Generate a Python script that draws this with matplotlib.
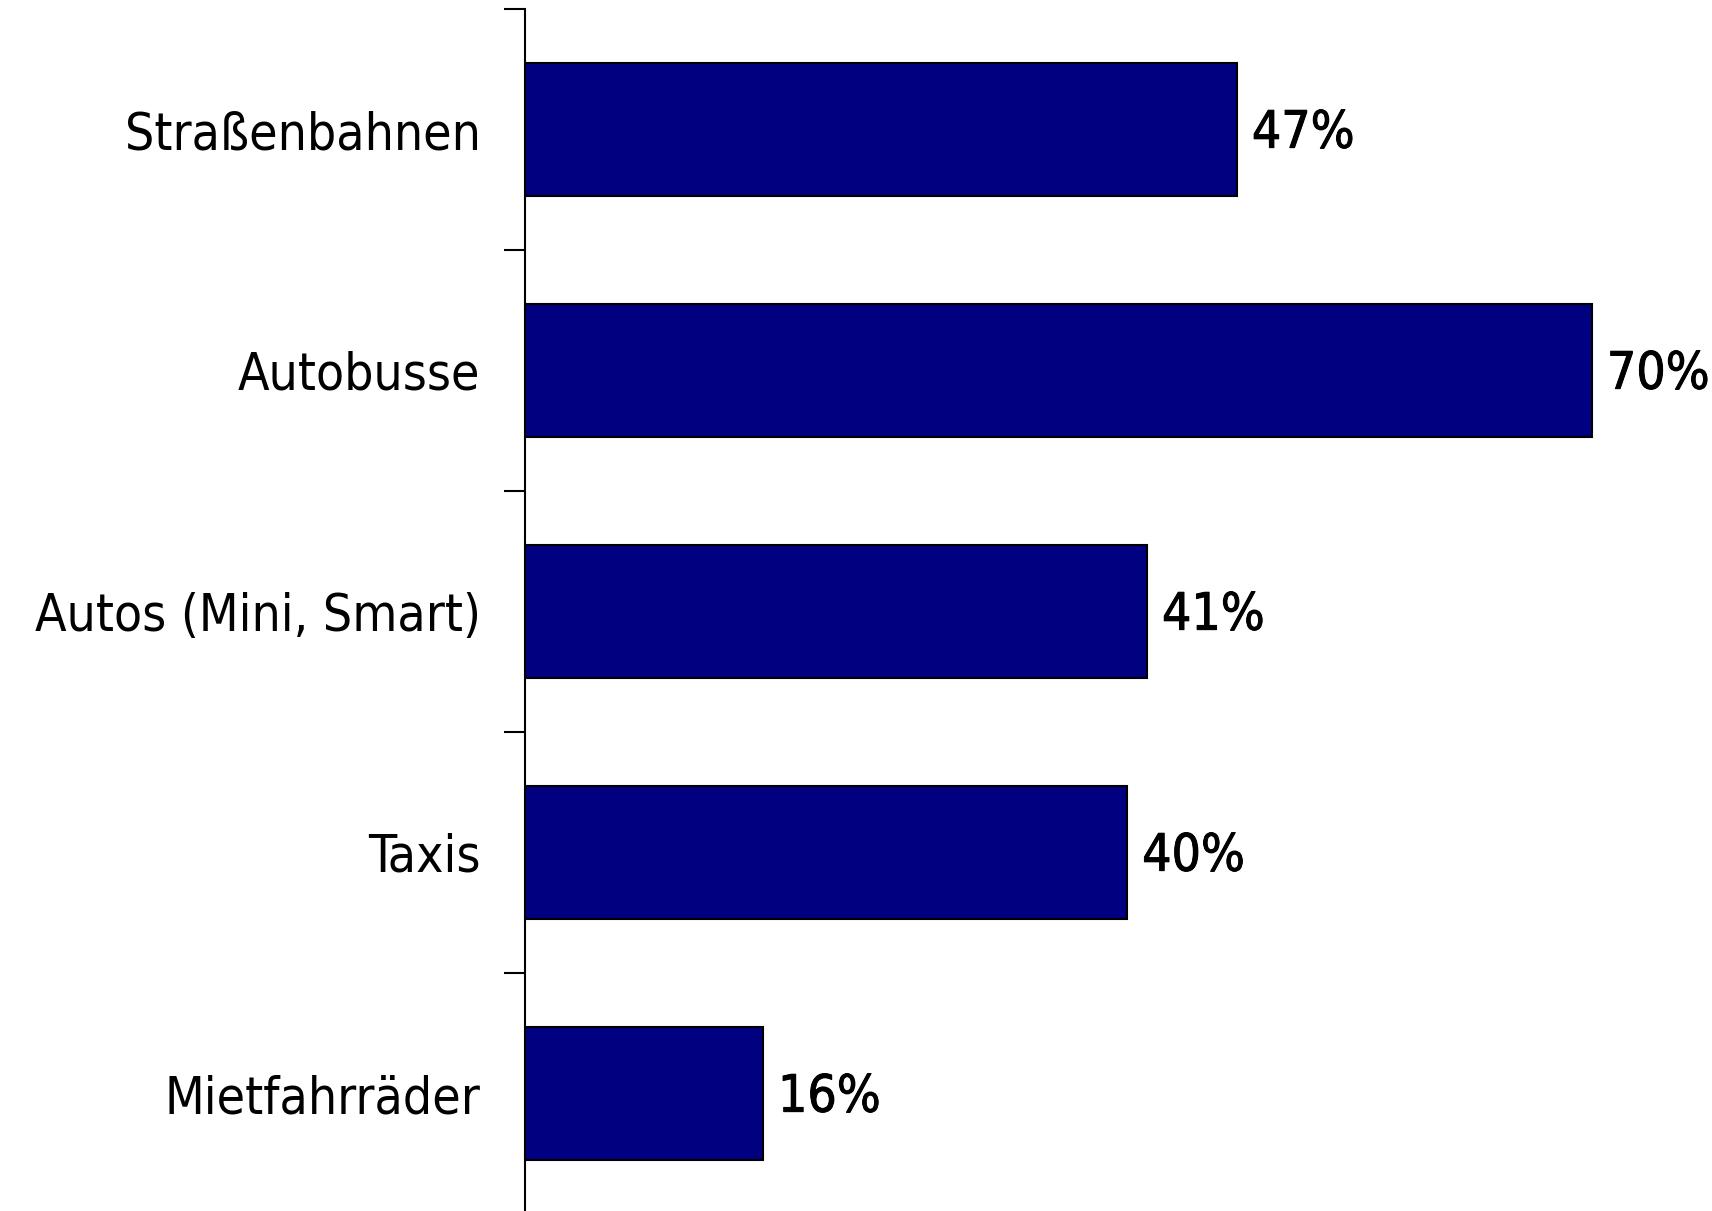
import matplotlib
matplotlib.use("Agg")
import matplotlib.pyplot as plt
import matplotlib.patheffects as pe

kategorien = ["Straßenbahnen", "Autobusse", "Autos (Mini, Smart)", "Taxis", "Mietfahrräder"]
anteile = [46.7, 70.0, 40.8, 39.5, 15.6]
beschriftung = ["47%", "70%", "41%", "40%", "16%"]

fig = plt.figure(figsize=(17.12, 12.11), dpi=100)
ax = fig.add_axes([525 / 1712, -3 / 1211, 1187 / 1712, 1205 / 1211])

pos = range(len(kategorien))
ax.barh(pos, anteile, height=0.555, color="#000080", edgecolor="black", linewidth=1.5)

ax.set_ylim(4.5, -0.5)
ax.set_xlim(0, 77.9)

# Striche an den Grenzen, Beschriftung in der Mitte
ax.set_yticks([-0.5, 0.5, 1.5, 2.5, 3.5, 4.5])
ax.set_yticklabels([])
ax.set_yticks(list(pos), minor=True)
ax.set_yticklabels(kategorien, minor=True, fontsize=37, fontstretch="condensed")
ax.tick_params(axis="y", which="major", length=15, width=1.5, direction="out")
ax.tick_params(axis="y", which="minor", length=0, pad=32)

# Werte etwas kräftiger als die Kategorien
dick = [pe.withStroke(linewidth=0.7, foreground="black")]
for i, (v, t) in enumerate(zip(anteile, beschriftung)):
    ax.annotate(t, (v, i), xytext=(11, -3), textcoords="offset points",
                va="center", ha="left", fontsize=37,
                fontstretch="condensed", annotation_clip=False, path_effects=dick)

for s in ["top", "right", "bottom"]:
    ax.spines[s].set_visible(False)
ax.spines["left"].set_linewidth(1.5)
ax.xaxis.set_visible(False)

fig.savefig("out.png", dpi=100)
